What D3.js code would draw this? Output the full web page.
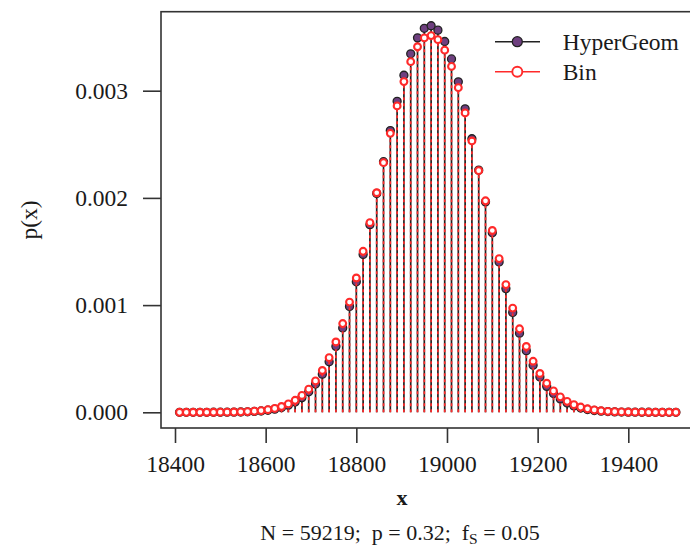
<!DOCTYPE html>
<html>
<head>
<meta charset="utf-8">
<script src="https://cdn.jsdelivr.net/npm/d3@7"></script>
<style>
  body { margin: 0; background: #fff; }
  text { font-family: "Liberation Serif", "DejaVu Serif", serif; fill: #1a1a1a; }
</style>
</head>
<body>
<div id="chart"></div>
<script>
// DATOS

const xStart = 18410
const xStep = 15
const xTicks = [18400, 18600, 18800, 19000, 19200, 19400]
const yTicks = [0, 0.001, 0.002, 0.003]
const yTickLabels = ["0.000", "0.001", "0.002", "0.003"]
const seriesNames = ["HyperGeom", "Bin"]

const hyperVals = [
  1.3e-8, 2.6e-8, 5.0e-8, 9.5e-8, 1.75e-7, 3.2e-7, 5.6e-7, 9.9e-7, 1.69e-6, 2.85e-6,
  4.7e-6, 7.7e-6, 1.22e-5, 1.92e-5, 2.94e-5, 4.44e-5, 6.58e-5, 9.57e-5, 1.37e-4, 1.91e-4,
  2.64e-4, 3.56e-4, 4.72e-4, 6.15e-4, 7.87e-4, 9.88e-4, 1.218e-3, 1.473e-3, 1.750e-3, 2.042e-3,
  2.338e-3, 2.628e-3, 2.901e-3, 3.144e-3, 3.344e-3, 3.493e-3, 3.582e-3, 3.606e-3, 3.565e-3, 3.459e-3,
  3.296e-3, 3.083e-3, 2.831e-3, 2.552e-3, 2.259e-3, 1.963e-3, 1.675e-3, 1.403e-3, 1.154e-3, 9.32e-4,
  7.38e-4, 5.75e-4, 4.39e-4, 3.29e-4, 2.42e-4, 1.75e-4, 1.24e-4, 8.67e-5, 5.93e-5, 3.99e-5,
  2.63e-5, 1.70e-5, 1.08e-5, 6.8e-6, 4.1e-6, 2.5e-6, 1.5e-6, 8.5e-7, 4.8e-7, 2.7e-7,
  1.5e-7, 8e-8, 4e-8, 2e-8
]

const binVals = [
  2.5e-8, 4.6e-8, 8.6e-8, 1.57e-7, 2.8e-7, 4.9e-7, 8.6e-7, 1.45e-6, 2.43e-6, 3.99e-6,
  6.43e-6, 1.02e-5, 1.59e-5, 2.43e-5, 3.66e-5, 5.40e-5, 7.84e-5, 1.12e-4, 1.57e-4, 2.16e-4,
  2.93e-4, 3.90e-4, 5.10e-4, 6.56e-4, 8.28e-4, 1.028e-3, 1.253e-3, 1.502e-3, 1.769e-3, 2.048e-3,
  2.329e-3, 2.602e-3, 2.858e-3, 3.085e-3, 3.271e-3, 3.410e-3, 3.492e-3, 3.514e-3, 3.476e-3, 3.378e-3,
  3.226e-3, 3.028e-3, 2.793e-3, 2.531e-3, 2.254e-3, 1.973e-3, 1.696e-3, 1.434e-3, 1.191e-3, 9.72e-4,
  7.79e-4, 6.14e-4, 4.76e-4, 3.62e-4, 2.71e-4, 1.99e-4, 1.44e-4, 1.02e-4, 7.11e-5, 4.88e-5,
  3.28e-5, 2.17e-5, 1.41e-5, 9.0e-6, 5.7e-6, 3.5e-6, 2.1e-6, 1.27e-6, 7.4e-7, 4.3e-7,
  2.4e-7, 1.3e-7, 7e-8, 4e-8
]

const xVals = hyperVals.map((d, i) => xStart + i * xStep)

// CTES

const width = 690
const height = 548
const box = { left: 161, right: 720, top: 11.7, bottom: 428 }
const purple = "#6e3f7f"
const red = "#ff2a2a"

// SVG

const svg = d3.select("#chart").append("svg").attr("width", width).attr("height", height)

// ESCALAS

const x = d3.scaleLinear().domain([18400, 19400]).range([175, 628.3])
const y = d3.scaleLinear().domain([0, 0.003]).range([412.3, 90.7])

// CAJA

svg.append("rect")
    .attr("x", box.left).attr("y", box.top)
    .attr("width", box.right - box.left).attr("height", box.bottom - box.top)
    .attr("fill", "none").attr("stroke", "#333").attr("stroke-width", 1.6)

// EJES

const xAxis = d3.axisBottom(x).tickValues(xTicks).tickFormat(d3.format("d")).tickSize(15).tickPadding(12)
const xAxisGroup = svg.append("g").attr("transform", `translate(0, ${box.bottom})`).call(xAxis)
xAxisGroup.select(".domain").remove()
xAxisGroup.selectAll("line").attr("stroke", "#333").attr("stroke-width", 1.6)
xAxisGroup.selectAll("text").attr("font-size", 23.5).attr("font-family", "Liberation Serif").attr("fill", "#1a1a1a")

const yAxis = d3.axisLeft(y).tickValues(yTicks).tickFormat((d, i) => yTickLabels[i]).tickSize(18).tickPadding(15)
const yAxisGroup = svg.append("g").attr("transform", `translate(${box.left}, 0)`).call(yAxis)
yAxisGroup.select(".domain").remove()
yAxisGroup.selectAll("line").attr("stroke", "#333").attr("stroke-width", 1.6)
yAxisGroup.selectAll("text").attr("font-size", 23.5).attr("font-family", "Liberation Serif").attr("fill", "#1a1a1a")

// ETIQUETAS

svg.append("text")
    .attr("transform", "translate(37, 220) rotate(-90)")
    .attr("text-anchor", "middle").attr("font-size", 23.5)
    .text("p(x)")

svg.append("text")
    .attr("x", 402).attr("y", 505)
    .attr("text-anchor", "middle").attr("font-size", 22).attr("font-weight", "bold")
    .text("x")

const sub = svg.append("text")
    .attr("x", 400).attr("y", 540)
    .attr("text-anchor", "middle").attr("font-size", 22)
    .style("white-space", "pre")
sub.append("tspan").text("N = 59219;  p = 0.32;  f")
sub.append("tspan").attr("font-size", 15.5).attr("dy", 4).text("S")
sub.append("tspan").attr("dy", -4).text(" = 0.05")

// BARRAS (type h)

const plot = svg.append("g")

const hyper = xVals.map((d, i) => ({ x: d, v: hyperVals[i] }))
const bin = xVals.map((d, i) => ({ x: d, v: binVals[i] }))

plot.selectAll("line.hyper").data(hyper).enter().append("line")
    .attr("class", "hyper")
    .attr("x1", d => x(d.x)).attr("x2", d => x(d.x))
    .attr("y1", y(0)).attr("y2", d => y(d.v))
    .attr("stroke", "#222").attr("stroke-width", 1.7)

plot.selectAll("circle.hyper").data(hyper).enter().append("circle")
    .attr("class", "hyper")
    .attr("cx", d => x(d.x)).attr("cy", d => y(d.v)).attr("r", 4)
    .attr("fill", purple).attr("stroke", "#222").attr("stroke-width", 1.3)

plot.selectAll("line.bin").data(bin).enter().append("line")
    .attr("class", "bin")
    .attr("x1", d => x(d.x)).attr("x2", d => x(d.x))
    .attr("y1", y(0)).attr("y2", d => y(d.v))
    .attr("stroke", red).attr("stroke-width", 1.7).attr("stroke-dasharray", "3,3")

plot.selectAll("circle.bin").data(bin).enter().append("circle")
    .attr("class", "bin")
    .attr("cx", d => x(d.x)).attr("cy", d => y(d.v)).attr("r", 3.4)
    .attr("fill", "#fff").attr("stroke", red).attr("stroke-width", 2.1)

// LEYENDA

const legend = svg.append("g")
const legY = [41.7, 71.7]
seriesNames.forEach((name, i) => {
    const col = i === 0 ? "#222" : red
    legend.append("line")
        .attr("x1", 495).attr("x2", 540).attr("y1", legY[i]).attr("y2", legY[i])
        .attr("stroke", col).attr("stroke-width", 1.6)
    legend.append("circle")
        .attr("cx", 517.3).attr("cy", legY[i]).attr("r", 5)
        .attr("fill", i === 0 ? purple : "#fff")
        .attr("stroke", col).attr("stroke-width", i === 0 ? 1.3 : 1.9)
    legend.append("text")
        .attr("x", 562.7).attr("y", legY[i]).attr("dy", "0.35em")
        .attr("font-size", 23.5)
        .text(name)
})
</script>
</body>
</html>
